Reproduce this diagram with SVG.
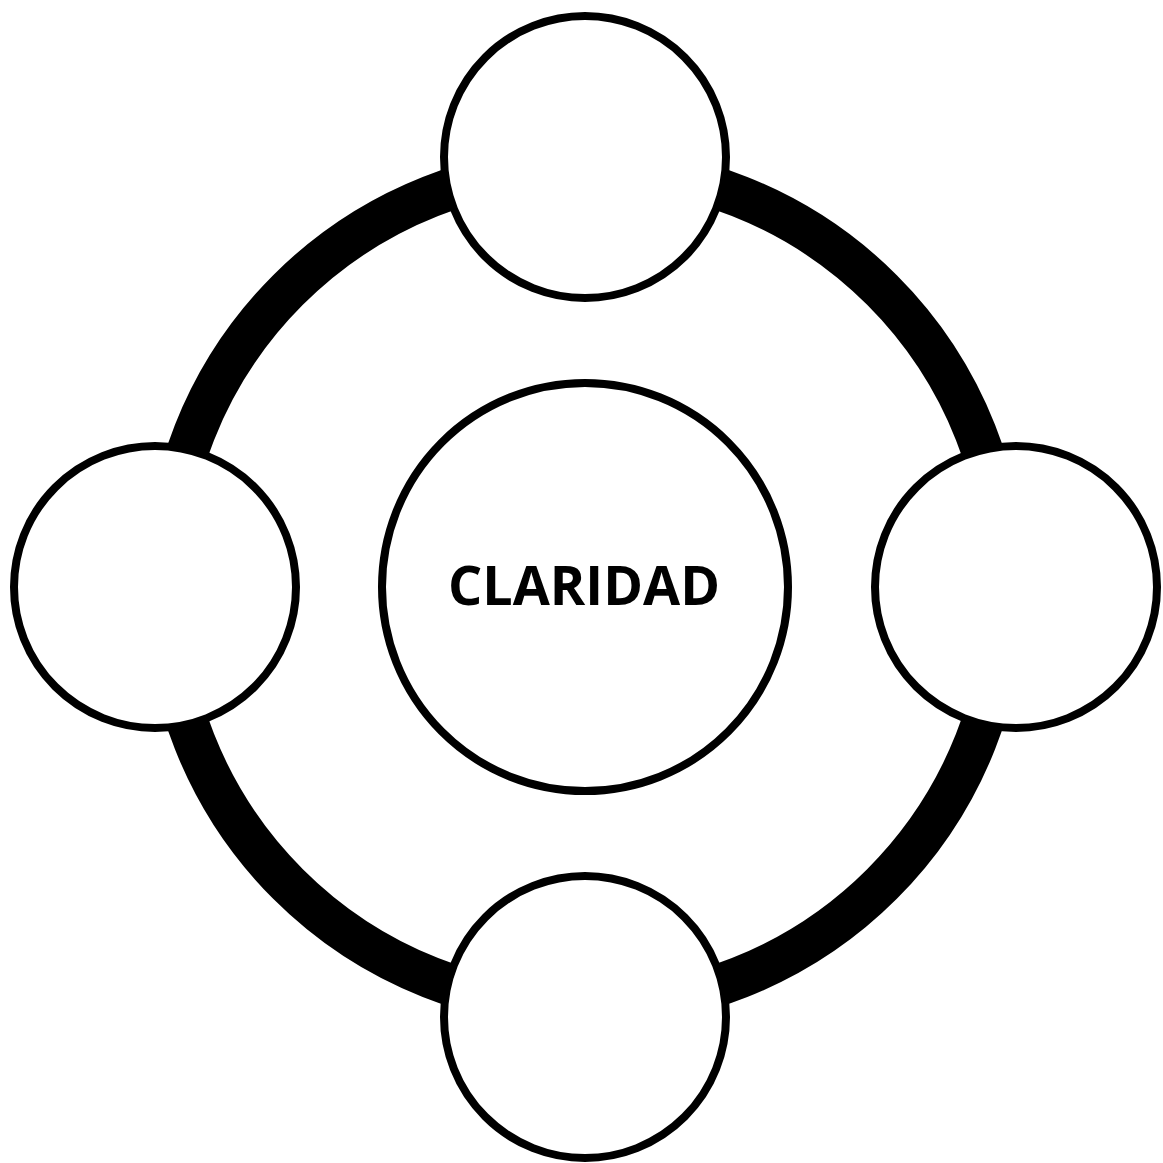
<svg xmlns="http://www.w3.org/2000/svg" width="1163" height="1163" viewBox="0 0 1163 1163">
<style>
.node{fill:#fff;stroke:#000;stroke-width:8}
.ring{fill:none;stroke:#000;stroke-width:42}
.lbl{font-family:"Open Sans","Liberation Sans",sans-serif;font-weight:bold;font-size:53px;fill:#000;text-anchor:middle}
</style>
<rect width="1163" height="1163" fill="#fff"/>
<g id="connectors">
<circle class="ring" cx="585" cy="587" r="420"/>
</g>
<g id="node-center">
<ellipse class="node" cx="585" cy="587" rx="203" ry="204" stroke-width="7"/>
<text class="lbl" x="584" y="605" textLength="272" lengthAdjust="spacingAndGlyphs">CLARIDAD</text>
</g>
<g id="node-top"><circle class="node" cx="585" cy="157" r="141"/></g>
<g id="node-left"><circle class="node" cx="155" cy="587" r="141"/></g>
<g id="node-right"><circle class="node" cx="1016" cy="587" r="141"/></g>
<g id="node-bottom"><circle class="node" cx="585" cy="1017" r="141"/></g>
</svg>
